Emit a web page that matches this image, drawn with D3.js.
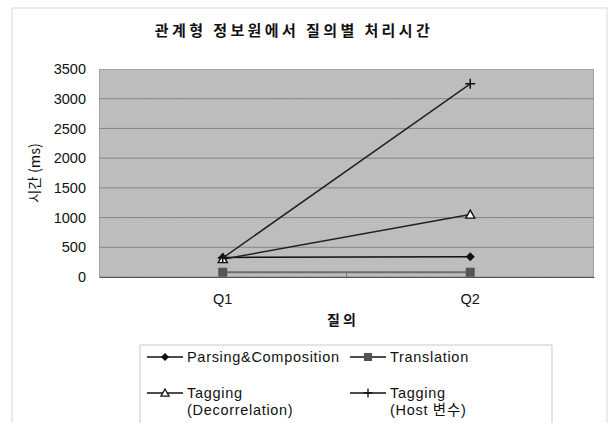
<!DOCTYPE html>
<html>
<head>
<meta charset="utf-8">
<script src="https://cdn.jsdelivr.net/npm/d3@7"></script>
<style>
  html, body { margin: 0; padding: 0; background: #fff; }
  svg { display: block; }
  text { font-family: "Liberation Sans", Arial, "Noto Sans CJK KR", sans-serif; fill: #111; }
  .ko { font-family: "Noto Sans CJK KR", sans-serif; }
</style>
</head>
<body>
<svg id="chart" width="610" height="423"></svg>
<script>
// Query categories and processing times (ms) per stage
const queries = ["Q1", "Q2"];
const parsing = [330, 340];
const translation = [80, 80];
const taggingDecorrelation = [300, 1050];
const taggingHost = [320, 3250];
const yTicks = [0, 500, 1000, 1500, 2000, 2500, 3000, 3500];

const seriesNames = ["Parsing&Composition", "Translation", "Tagging\n(Decorrelation)", "Tagging\n(Host 변수)"];
const seriesValues = [parsing, translation, taggingDecorrelation, taggingHost];
const seriesStyle = [
  { stroke: "#111", marker: "diamond" },
  { stroke: "#6e6e6e", marker: "square" },
  { stroke: "#222", marker: "triangle" },
  { stroke: "#222", marker: "plus" }
];

const svg = d3.select("#chart");
const margin = { left: 99, right: 16, top: 69, bottom: 146 };
const W = 610, H = 423;
const plotW = W - margin.left - margin.right;
const plotH = H - margin.top - margin.bottom;

// Outer frame
svg.append("path")
  .attr("d", `M12,${H} V8 H607 V${H}`)
  .attr("fill", "none").attr("stroke", "#d8d8d8").attr("stroke-width", 1);

// Title
svg.append("text").attr("class", "ko")
  .attr("x", 294).attr("y", 36)
  .attr("text-anchor", "middle")
  .attr("font-size", 15).attr("font-weight", "bold")
  .attr("letter-spacing", 3.4)
  .text("관계형 정보원에서 질의별 처리시간");

const x = d3.scaleBand().domain(queries).range([0, plotW]);
const y = d3.scaleLinear().domain([0, 3500]).range([plotH, 0]);

const g = svg.append("g").attr("transform", `translate(${margin.left},${margin.top})`);

// Plot background with slight grain
const defs = svg.append("defs");
const filt = defs.append("filter").attr("id", "grain").attr("x", 0).attr("y", 0).attr("width", 1).attr("height", 1);
filt.append("feTurbulence").attr("type", "fractalNoise").attr("baseFrequency", 0.9).attr("numOctaves", 1).attr("seed", 3).attr("result", "n");
filt.append("feColorMatrix").attr("in", "n").attr("type", "matrix")
  .attr("values", "0 0 0 0 0.55  0 0 0 0 0.55  0 0 0 0 0.55  0 0 0 0.35 0").attr("result", "nc");
filt.append("feComposite").attr("in", "nc").attr("in2", "SourceGraphic").attr("operator", "in").attr("result", "nm");
filt.append("feMerge").selectAll("feMergeNode").data(["SourceGraphic", "nm"]).join("feMergeNode").attr("in", d => d);

g.append("rect")
  .attr("width", plotW).attr("height", plotH)
  .attr("fill", "#bcbcbc").attr("stroke", "#7a7a7a").attr("stroke-width", 1)
  .attr("filter", "url(#grain)");

// Gridlines
g.append("g").selectAll("line").data(yTicks.filter(d => d > 0 && d < 3500)).join("line")
  .attr("x1", 0).attr("x2", plotW)
  .attr("y1", d => y(d)).attr("y2", d => y(d))
  .attr("stroke", "#858585").attr("stroke-width", 1);

// Y axis
const yAxis = g.append("g").call(d3.axisLeft(y).tickValues(yTicks).tickFormat(d3.format("d")).tickSize(0).tickPadding(13));
yAxis.select(".domain").remove();
yAxis.selectAll("text").attr("font-size", 14.5).style("font-family", "Liberation Sans, Arial, sans-serif").attr("fill", "#111");

// X axis
const xAxis = g.append("g").attr("transform", `translate(0,${plotH})`)
  .call(d3.axisBottom(x).tickSize(0).tickPadding(17));
xAxis.select(".domain").attr("stroke", "#555");
xAxis.selectAll("text").attr("font-size", 14.5).style("font-family", "Liberation Sans, Arial, sans-serif").attr("fill", "#111");
// middle tick on the category axis
g.append("line").attr("x1", plotW / 2).attr("x2", plotW / 2).attr("y1", plotH - 4).attr("y2", plotH)
  .attr("stroke", "#777");

// Axis titles
svg.append("text").attr("class", "ko")
  .attr("transform", `translate(40,${margin.top + plotH / 2}) rotate(-90)`)
  .attr("text-anchor", "middle").attr("font-size", 14.5)
  .text("시간 (ms)");
svg.append("text").attr("class", "ko")
  .attr("x", 343).attr("y", 325).attr("text-anchor", "middle")
  .attr("font-size", 14).attr("font-weight", "bold").attr("letter-spacing", 3)
  .text("질의");

// Marker drawing
function drawMarker(sel, type) {
  if (type === "diamond") {
    sel.append("path").attr("d", "M0,-4.5 L4.5,0 L0,4.5 L-4.5,0Z").attr("fill", "#111");
  } else if (type === "square") {
    sel.append("rect").attr("x", -4.5).attr("y", -4.5).attr("width", 9).attr("height", 9).attr("fill", "#555");
  } else if (type === "triangle") {
    sel.append("path").attr("d", "M0,-4.5 L4.5,3.5 L-4.5,3.5Z").attr("fill", "#fff").attr("stroke", "#111").attr("stroke-width", 1.4);
  } else if (type === "plus") {
    sel.append("path").attr("d", "M-5,0 H5 M0,-5 V5").attr("stroke", "#111").attr("stroke-width", 1.5);
  }
}

const line = d3.line().x((d, i) => x(queries[i]) + x.bandwidth() / 2).y(d => y(d));

// Draw lowest series first so markers stack as in the original
const order = [1, 0, 2, 3];
order.forEach(si => {
  const vals = seriesValues[si];
  const st = seriesStyle[si];
  g.append("path").datum(vals).attr("d", line)
    .attr("fill", "none").attr("stroke", st.stroke).attr("stroke-width", si === 1 ? 2 : 1.5);
  vals.forEach((v, i) => {
    const m = g.append("g").attr("transform", `translate(${x(queries[i]) + x.bandwidth() / 2},${y(v)})`);
    drawMarker(m, st.marker);
  });
});

// Legend
const legend = svg.append("g");
legend.append("path")
  .attr("d", "M140,423 V345 H552 V423")
  .attr("fill", "none").attr("stroke", "#c8c8c8");

const legendPos = [
  { lx: 147, ty: 357 },
  { lx: 350, ty: 357 },
  { lx: 147, ty: 393 },
  { lx: 350, ty: 393 }
];
seriesNames.forEach((name, si) => {
  const p = legendPos[si];
  const st = seriesStyle[si];
  legend.append("line").attr("x1", p.lx).attr("x2", p.lx + 36).attr("y1", p.ty).attr("y2", p.ty)
    .attr("stroke", "#111").attr("stroke-width", 1.5);
  const m = legend.append("g").attr("transform", `translate(${p.lx + 18},${p.ty}) scale(0.9)`);
  drawMarker(m, st.marker);
  const t = legend.append("text").attr("x", p.lx + 40).attr("y", p.ty + 5)
    .attr("font-size", 14.5).attr("letter-spacing", 0.7);
  name.split("\n").forEach((ln, k) => {
    t.append("tspan").attr("x", p.lx + 40).attr("dy", k === 0 ? 0 : 17).text(ln);
  });
});
</script>
</body>
</html>
